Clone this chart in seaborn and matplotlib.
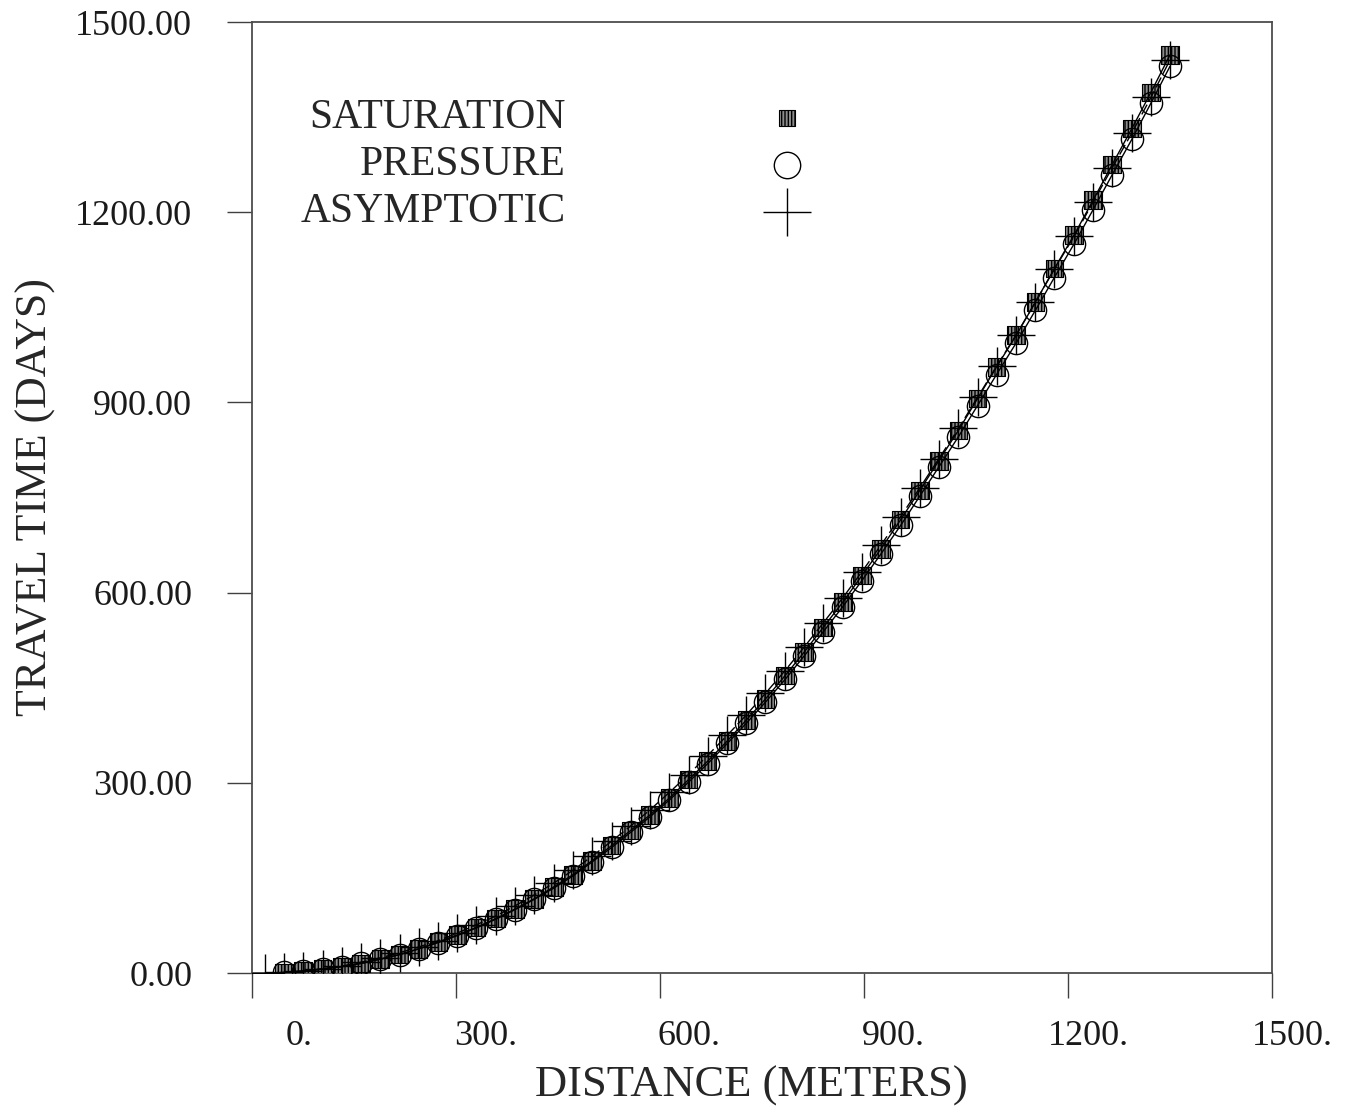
import numpy as np
import pandas as pd
import matplotlib
matplotlib.use('Agg')
import matplotlib.pyplot as plt
import seaborn as sns
from matplotlib.transforms import ScaledTranslation

# distance (m) of the computed points
distance = [47, 75, 104, 132, 160, 189, 217, 245, 274, 302,
            330, 359, 387, 415, 444, 472, 500, 529, 557, 585,
            614, 642, 670, 699, 727, 755, 784, 812, 840, 869,
            897, 925, 954, 982, 1010, 1039, 1067, 1095, 1124, 1152,
            1180, 1209, 1237, 1265, 1294, 1322, 1350]

# travel time (days)
saturation = [1, 3, 6, 10, 15, 22, 29, 38, 49, 60,
              72, 86, 101, 117, 136, 155, 177, 201, 225, 249,
              276, 305, 334, 366, 399, 432, 469, 506, 545, 585,
              627, 669, 715, 761, 808, 856, 906, 956, 1006, 1058,
              1111, 1164, 1219, 1275, 1332, 1389, 1448]
pressure = [1, 3, 6, 10, 15, 22, 29, 38, 48, 59,
            71, 85, 100, 116, 134, 153, 175, 198, 222, 246,
            273, 301, 330, 362, 394, 427, 463, 500, 538, 578,
            619, 661, 706, 752, 798, 846, 895, 944, 994, 1045,
            1097, 1150, 1204, 1259, 1315, 1372, 1430]
asym_distance = [19] + distance
asymptotic = [0, 1, 3, 7, 11, 17, 24, 32, 41, 51, 63,
              76, 90, 106, 123, 142, 162, 184, 208, 232, 257,
              285, 313, 343, 375, 407, 441, 477, 514, 552, 592,
              633, 675, 720, 765, 811, 859, 908, 957, 1007, 1058,
              1110, 1162, 1216, 1270, 1325, 1381, 1440]

x_ticks = [0, 300, 600, 900, 1200, 1500]
x_labels = ['0.', '300.', '600.', '900.', '1200.', '1500.']
y_ticks = [0, 300, 600, 900, 1200, 1500]
y_labels = ['0.00', '300.00', '600.00', '900.00', '1200.00', '1500.00']

sns.set_style('white')
plt.rcParams['font.family'] = ['Liberation Serif', 'DejaVu Serif']

fig, ax = plt.subplots(figsize=(13.54, 11.12), dpi=100)
fig.subplots_adjust(left=0.1861, right=0.9394, bottom=0.125, top=0.9802)

df_sat = pd.DataFrame({'distance': distance, 'days': saturation})
df_pre = pd.DataFrame({'distance': distance, 'days': pressure})
df_asy = pd.DataFrame({'distance': asym_distance, 'days': asymptotic})

# saturation: hatched grey squares
sns.scatterplot(data=df_sat, x='distance', y='days', marker='s', s=160,
                color='0.55', edgecolor='black', hatch='|||||', linewidth=0.8,
                ax=ax, zorder=3)
sns.lineplot(data=df_sat, x='distance', y='days', color='black', lw=1.0,
             estimator=None, sort=False, ax=ax, zorder=4)

# pressure: open circles
sns.lineplot(data=df_pre, x='distance', y='days', color='black', lw=1.0,
             marker='o', markersize=16, markerfacecolor='none',
             markeredgecolor='black', markeredgewidth=1.0,
             estimator=None, sort=False, ax=ax, zorder=5)

# asymptotic: plus signs, dashed line
sns.lineplot(data=df_asy, x='distance', y='days', color='black', lw=1.0,
             linestyle=(0, (8, 3)), marker='+', markersize=27,
             markeredgecolor='black', markeredgewidth=1.0,
             estimator=None, sort=False, ax=ax, zorder=6)

ax.set_xlim(0, 1500)
ax.set_ylim(0, 1500)
ax.set_xticks(x_ticks)
ax.set_xticklabels(x_labels)
ax.set_yticks(y_ticks)
ax.set_yticklabels(y_labels)

ax.tick_params(axis='both', direction='out', length=18, width=1.0,
               color='0.25', labelsize=26, labelcolor='0.1',
               bottom=True, left=True)
ax.tick_params(axis='x', pad=16)
ax.tick_params(axis='y', pad=25)
# the x labels sit to the right of their ticks
shift = ScaledTranslation(0.61, 0, fig.dpi_scale_trans)
for lab in ax.get_xticklabels():
    lab.set_horizontalalignment('right')
    lab.set_transform(lab.get_transform() + shift)

for sp in ax.spines.values():
    sp.set_visible(True)
    sp.set_color('0.3')
    sp.set_linewidth(1.3)

ax.set_xlabel('DISTANCE (METERS)', fontsize=32, color='0.15')
ax.set_ylabel('TRAVEL TIME (DAYS)', fontsize=31.5, color='0.15')
ax.xaxis.set_label_coords(0.49, -0.097)
ax.yaxis.set_label_coords(-0.192, 0.5)

# legend block
leg_rows = [('SATURATION', 0.899), ('PRESSURE', 0.8496), ('ASYMPTOTIC', 0.8002)]
for name, yy in leg_rows:
    ax.text(0.3078, yy, name, transform=ax.transAxes, ha='right', va='center',
            fontsize=30, color='0.15')
ax.scatter([0.5245], [0.899], transform=ax.transAxes, marker='s', s=120,
           color='0.55', edgecolor='black', hatch='|||||', linewidth=0.8,
           clip_on=False, zorder=7)
ax.plot([0.5245], [0.8496], transform=ax.transAxes, marker='o', markersize=19,
        markerfacecolor='none', markeredgecolor='black', markeredgewidth=1.0,
        linestyle='', clip_on=False)
ax.plot([0.5245], [0.8002], transform=ax.transAxes, marker='+', markersize=34,
        markeredgewidth=1.0, color='black', linestyle='', clip_on=False)

fig.savefig('out.png', dpi=100)
